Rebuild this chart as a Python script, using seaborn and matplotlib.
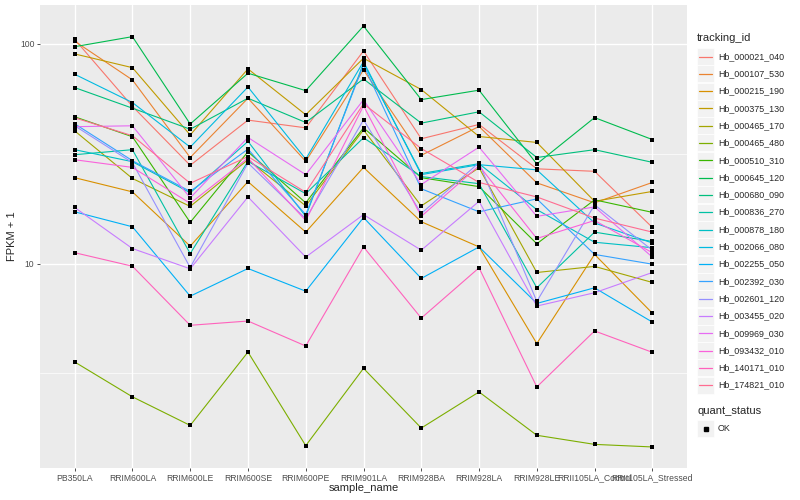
import numpy as np
import pandas as pd
import matplotlib
matplotlib.use("Agg")
import matplotlib.pyplot as plt
import seaborn as sns
from matplotlib.lines import Line2D
from matplotlib.patches import Rectangle
from matplotlib.ticker import FixedLocator, NullFormatter

# ---------------- data ----------------
samples = ["PB350LA", "RRIM600LA", "RRIM600LE", "RRIM600SE", "RRIM600PE", "RRIM901LA",
           "RRIM928BA", "RRIM928LA", "RRIM928LE", "RRII105LA_Control", "RRII105LA_Stressed"]

tracking_ids = ["Hb_000021_040", "Hb_000107_530", "Hb_000215_190", "Hb_000375_130",
                "Hb_000465_170", "Hb_000465_480", "Hb_000510_310", "Hb_000645_120",
                "Hb_000680_090", "Hb_000836_270", "Hb_000878_180", "Hb_002066_080",
                "Hb_002255_050", "Hb_002392_030", "Hb_002601_120", "Hb_003455_020",
                "Hb_009969_030", "Hb_093432_010", "Hb_140171_010", "Hb_174821_010"]

# FPKM + 1 per sample (same order as samples)
hb_000021_040 = [105, 52, 28, 45, 41.5, 93, 37, 43, 27, 26.3, 14.6]
hb_000107_530 = [103, 68.6, 30.4, 56.6, 29.2, 76.2, 31.1, 42.1, 23.3, 18.9, 23.4]
hb_000215_190 = [24.6, 21.2, 12.0, 23.6, 13.9, 27.4, 15.5, 11.9, 4.32, 11.0, 5.94]
hb_000375_130 = [90.1, 78.0, 38.5, 77.0, 47.6, 86.1, 62.0, 37.9, 35.6, 19.2, 21.3]
hb_000465_170 = [40.2, 24.4, 18.2, 29.7, 18.3, 40.6, 18.3, 27.3, 9.1, 9.7, 8.2]
hb_000465_480 = [3.56, 2.47, 1.83, 3.95, 1.48, 3.33, 1.78, 2.60, 1.65, 1.50, 1.46]
hb_000510_310 = [46.6, 37.8, 15.4, 32.3, 18.9, 41.5, 24.6, 22.4, 12.3, 19.5, 17.1]
hb_000645_120 = [97.2, 108, 43.2, 73.6, 61.3, 120.7, 55.8, 61.6, 28.4, 46.2, 36.7]
hb_000680_090 = [63.3, 51.0, 40.9, 56.6, 43.9, 69.3, 43.6, 49.1, 30.4, 33.0, 28.9]
hb_000836_270 = [31.3, 33.0, 11.1, 29.2, 20.8, 37.4, 24.9, 23.1, 7.75, 13.9, 12.6]
hb_000878_180 = [33.0, 29.1, 21.0, 36.0, 16.4, 81.9, 25.7, 28.5, 17.6, 12.5, 11.8]
hb_002066_080 = [72.8, 54.1, 33.9, 63.7, 29.9, 83.1, 25.4, 28.2, 26.7, 15.3, 12.4]
hb_002255_050 = [17.2, 14.7, 7.10, 9.49, 7.48, 16.2, 8.55, 11.9, 6.58, 7.75, 5.41]
hb_002392_030 = [43.3, 29.4, 21.3, 33.2, 16.7, 80.3, 21.9, 17.2, 19.7, 11.0, 9.93]
hb_002601_120 = [42.4, 28.8, 9.59, 28.7, 16.0, 45.1, 16.9, 28.8, 6.72, 18.5, 11.5]
hb_003455_020 = [18.0, 11.7, 9.46, 20.1, 10.7, 16.7, 11.5, 19.2, 6.40, 7.36, 9.1]
hb_009969_030 = [42.0, 42.4, 19.9, 37.5, 25.4, 55.7, 22.9, 33.9, 16.4, 18.1, 10.7]
hb_093432_010 = [29.7, 27.4, 18.8, 30.2, 15.7, 52.3, 16.4, 27.9, 13.0, 15.7, 11.2]
hb_140171_010 = [11.2, 9.72, 5.23, 5.47, 4.21, 11.9, 5.64, 9.56, 2.74, 4.93, 3.94]
hb_174821_010 = [46.1, 38.2, 23.2, 30.7, 21.1, 53.4, 33.4, 23.4, 20.1, 16.1, 13.9]

series = [hb_000021_040, hb_000107_530, hb_000215_190, hb_000375_130, hb_000465_170,
          hb_000465_480, hb_000510_310, hb_000645_120, hb_000680_090, hb_000836_270,
          hb_000878_180, hb_002066_080, hb_002255_050, hb_002392_030, hb_002601_120,
          hb_003455_020, hb_009969_030, hb_093432_010, hb_140171_010, hb_174821_010]

# ggplot2 default hue palette for 20 levels
colors = ["#F8766D", "#EA8331", "#D89000", "#C09B00", "#A3A500", "#7CAE00", "#39B600",
          "#00BB4E", "#00BF7D", "#00C1A3", "#00BFC4", "#00BAE0", "#00B0F6", "#35A2FF",
          "#9590FF", "#C77CFF", "#E76BF3", "#FA62DB", "#FF62BC", "#FF6C91"]

rows = []
for tid, vals in zip(tracking_ids, series):
    for s, v in zip(samples, vals):
        rows.append({"tracking_id": tid, "sample_name": s, "fpkm": v, "quant_status": "OK"})
df = pd.DataFrame(rows)
df["sample_name"] = pd.Categorical(df["sample_name"], categories=samples, ordered=True)

# ---------------- style ----------------
sns.set_theme(style="darkgrid", rc={"axes.facecolor": "#EBEBEB"})
plt.rcParams["font.family"] = ["Liberation Sans", "DejaVu Sans"]

W, H = 800, 500
fig = plt.figure(figsize=(8, 5), dpi=100)
fig.patch.set_facecolor("white")
ax = fig.add_axes([40 / W, 1 - 468 / H, (687 - 40) / W, (468 - 5) / H])
ax.set_yscale("log")

sns.lineplot(data=df, x="sample_name", y="fpkm", hue="tracking_id", hue_order=tracking_ids,
             palette=colors, linewidth=0.8, estimator=None, legend=False, ax=ax)
sns.scatterplot(data=df, x="sample_name", y="fpkm", color="black", marker="s", s=12,
                linewidth=0, legend=False, ax=ax, zorder=3)

# limits like ggplot (5% expansion in log space, 0.6 on discrete axis)
lo, hi = np.log10(df["fpkm"].min()), np.log10(df["fpkm"].max())
pad = 0.05 * (hi - lo)
ax.set_ylim(10 ** (lo - pad), 10 ** (hi + pad))
ax.set_xlim(-0.6, len(samples) - 0.4)

ax.set_xticks(range(len(samples)))
ax.set_xticklabels(samples)
ax.set_yticks([10, 100])
ax.set_yticklabels(["10", "100"])
ax.yaxis.set_minor_locator(FixedLocator([10 ** 0.5, 10 ** 1.5]))
ax.yaxis.set_minor_formatter(NullFormatter())

ax.grid(True, which="major", color="white", linewidth=1.0)
ax.grid(False, which="minor", axis="x")
ax.yaxis.grid(True, which="minor", color="white", linewidth=0.5)
for sp in ax.spines.values():
    sp.set_visible(False)

ax.tick_params(axis="both", which="major", length=2.5, width=0.6, color="#333333",
               labelsize=6.2, labelcolor="#4D4D4D", pad=1.5, bottom=True, left=True)
ax.tick_params(axis="y", which="minor", length=0)

ax.set_xlabel("sample_name", fontsize=8, labelpad=0.5)
ax.set_ylabel("FPKM + 1", fontsize=8, labelpad=2)

# ---------------- legends (ggplot-like) ----------------
def fx(px):
    return px / W

def fy(py):
    return 1 - py / H

fig.text(fx(697), fy(38), "tracking_id", fontsize=8, va="center", ha="left")
step = 17.3
for i, (tid, col) in enumerate(zip(tracking_ids, colors)):
    cy = 56.5 + i * step
    fig.patches.append(Rectangle((fx(697), fy(cy + 8.5)), fx(17), 17 / H,
                                 transform=fig.transFigure, facecolor="#F2F2F2",
                                 edgecolor="white", linewidth=0.5))
    fig.lines.append(Line2D([fx(699), fx(712)], [fy(cy), fy(cy)], transform=fig.transFigure,
                            color=col, linewidth=0.9))
    fig.text(fx(718), fy(cy), tid, fontsize=6.4, va="center", ha="left")

fig.text(fx(697), fy(411), "quant_status", fontsize=8, va="center", ha="left")
fig.patches.append(Rectangle((fx(697), fy(437)), fx(17), 17 / H, transform=fig.transFigure,
                             facecolor="#F2F2F2", edgecolor="white", linewidth=0.5))
fig.lines.append(Line2D([fx(705.5)], [fy(428.5)], transform=fig.transFigure, color="black",
                        marker="s", markersize=3, linestyle="none"))
fig.text(fx(718), fy(428.5), "OK", fontsize=6.4, va="center", ha="left")

fig.savefig("out.png", dpi=100)
